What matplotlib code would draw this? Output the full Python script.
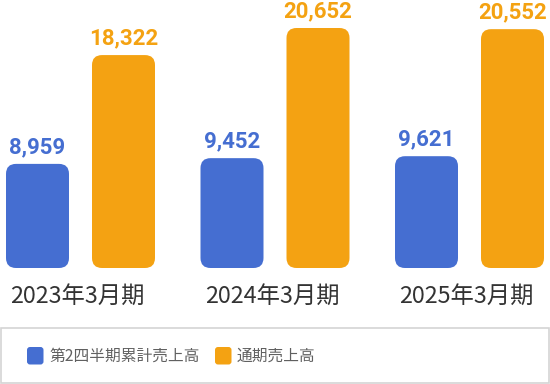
import numpy as np
import matplotlib
matplotlib.use("Agg")
import matplotlib.pyplot as plt
from matplotlib.patches import FancyBboxPatch, Rectangle

# データ
periods = ["2023年3月期", "2024年3月期", "2025年3月期"]
series_names = ["第2四半期累計売上高", "通期売上高"]
h1_sales = [8959, 9452, 9621]
full_sales = [18322, 20652, 20552]

colors = ["#456ed1", "#f4a212"]

W, H = 550, 384
fig = plt.figure(figsize=(W / 100, H / 100), dpi=100)

# バー領域 (ピクセルで配置)
base_px = 268
ax = fig.add_axes([0, (H - base_px) / H, 1, base_px / H])
ax.set_xlim(-80.5 / 194.5, (W - 80.5) / 194.5)
ymax = max(full_sales) * base_px / 240
ax.set_ylim(0, ymax)
ax.axis("off")

x = np.arange(len(periods))
width = 63 / 194.5
off = 43 / 194.5

px_x = 1 / 194.5
px_y = ymax / base_px
radius = 10 * px_x
aspect = px_y / px_x

for vals, dx, col in [(h1_sales, -off, colors[0]), (full_sales, off, colors[1])]:
    bars = ax.bar(x + dx, vals, width, color=col)
    for b, v in zip(bars, vals):
        b.set_visible(False)
        p = FancyBboxPatch((b.get_x(), 0), b.get_width(), b.get_height(),
                           boxstyle=f"round,pad=0,rounding_size={radius}",
                           mutation_aspect=aspect, facecolor=col,
                           edgecolor="none", clip_on=False)
        ax.add_patch(p)
        ax.text(b.get_x() + b.get_width() / 2, v + 11 * px_y, f"{v:,}",
                ha="center", va="baseline", fontsize=16, fontweight="bold",
                color=col, family=["Roboto", "DejaVu Sans"], clip_on=False)

# 下部: ラベルと凡例
ov = fig.add_axes([0, 0, 1, 1], zorder=-1)
ov.set_xlim(0, W)
ov.set_ylim(H, 0)
ov.axis("off")

for i, lab in enumerate(periods):
    cx = 80.5 + i * 194.5
    ov.text(cx - 3, 296, lab, ha="center", va="center", fontsize=16.8,
            color="#333333", family=["Noto Sans CJK JP", "DejaVu Sans"])

ov.add_patch(Rectangle((0.75, 328), W - 1.5, 55, facecolor="white",
                       edgecolor="#d4d4d4", linewidth=1.2))

leg_x = [27, 215]
for lx, name, col in zip(leg_x, series_names, colors):
    ov.add_patch(FancyBboxPatch((lx, 347), 16.5, 17.5,
                                boxstyle="round,pad=0,rounding_size=3",
                                facecolor=col, edgecolor="none"))
    ov.text(lx + 22, 356, name, ha="left", va="center", fontsize=11.3,
            color="#606060", family=["Noto Sans CJK JP", "DejaVu Sans"])

fig.savefig("out.png", dpi=100)
